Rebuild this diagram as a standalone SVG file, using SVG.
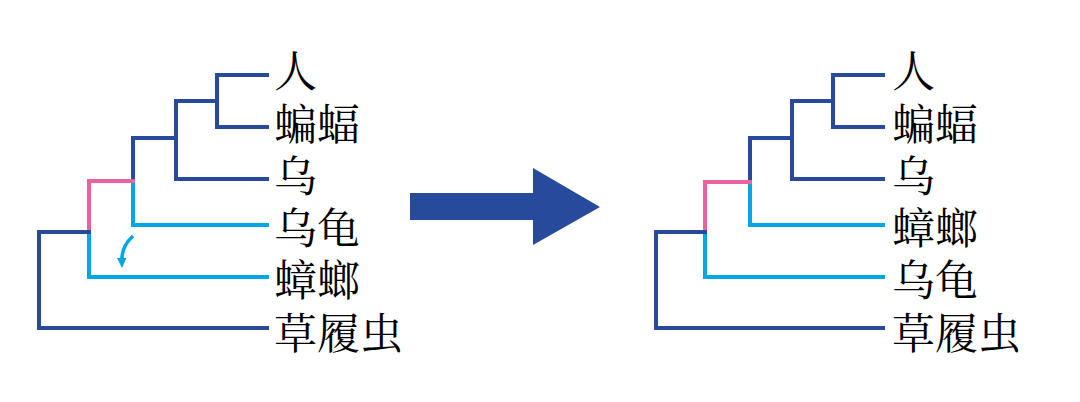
<svg xmlns="http://www.w3.org/2000/svg" width="1080" height="402" viewBox="0 0 1080 402">
<style>
.b{fill:none;stroke:#284a9c;stroke-width:4;stroke-linejoin:miter;stroke-linecap:square}
.c{fill:none;stroke:#00a7e6;stroke-width:4;stroke-linecap:square}
.p{fill:none;stroke:#ec62a0;stroke-width:4;stroke-linecap:square}
text{font-family:"Noto Serif CJK SC","Noto Sans CJK SC",serif;font-size:43px;fill:#000;dominant-baseline:central}
</style>
<rect width="1080" height="402" fill="#fff"/>
<g id="connectors">
<!-- left tree -->
<path class="b" d="M267,75 H217 V127 H267 M217,101 H176 V179 H267 M176,138 H133 V181"/>
<path class="c" d="M133,181 V225 H267 M89,232 V277 H267"/>
<path class="p" d="M133,181 H89 V232"/>
<path class="b" d="M89,232 H39 V328 H267"/>
<path d="M133,236 Q121,247 122,261" fill="none" stroke="#00a7e6" stroke-width="3.5"/>
<path d="M117,258 L122,268 L126.5,258 Z" fill="#00a7e6"/>
<!-- right tree -->
<path class="b" d="M883,75 H833 V127 H883 M833,101 H792 V179 H883 M792,138 H750 V182"/>
<path class="c" d="M750,182 V225 H883 M705,232 V277 H883"/>
<path class="p" d="M750,182 H705 V232"/>
<path class="b" d="M705,232 H656 V328 H883"/>
</g>
<g id="arrow">
<path d="M410,193 H533 V168 L600,207 L533,245 V220 H410 Z" fill="#274a9c"/>
</g>
<g id="left-labels">
<text x="274" y="68">人</text>
<text x="274" y="121">蝙蝠</text>
<text x="274" y="173">乌</text>
<text x="274" y="225">乌龟</text>
<text x="274" y="277">蟑螂</text>
<text x="274" y="330">草履虫</text>
</g>
<g id="right-labels">
<text x="892" y="68">人</text>
<text x="892" y="121">蝙蝠</text>
<text x="892" y="173">乌</text>
<text x="892" y="225">蟑螂</text>
<text x="892" y="277">乌龟</text>
<text x="892" y="330">草履虫</text>
</g>
</svg>
